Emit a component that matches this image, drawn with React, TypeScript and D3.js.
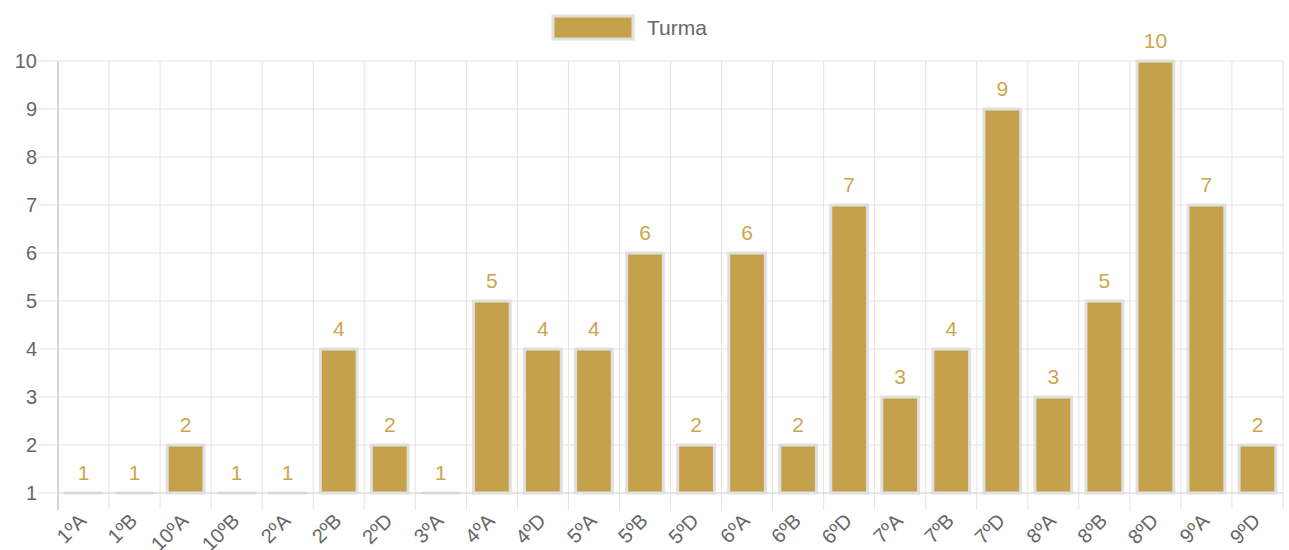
import React from "react";
import * as d3 from "d3";

const categories = ["1ºA","1ºB","10ºA","10ºB","2ºA","2ºB","2ºD","3ºA","4ºA","4ºD","5ºA","5ºB","5ºD","6ºA","6ºB","6ºD","7ºA","7ºB","7ºD","8ºA","8ºB","8ºD","9ºA","9ºD"];
const values = [1,1,2,1,1,4,2,1,5,4,4,6,2,6,2,7,3,4,9,3,5,10,7,2];
const yTicks = [1,2,3,4,5,6,7,8,9,10];
const seriesName = "Turma";

const W = 1289, H = 550;
const left = 58, right = 1283, top = 61, bottom = 493;
const barColor = "#c5a14b";
const font = "Arimo, 'Liberation Sans', Arial, sans-serif";

export default function App() {
  const x = d3.scaleBand<string>().domain(categories).range([left, right]).paddingInner(0).paddingOuter(0);
  const y = d3.scaleLinear().domain([1, 10]).range([bottom, top]);
  const bw = x.bandwidth() * 0.72;
  return (
    <svg width={W} height={H} style={{ position: "absolute", left: 0, top: 0, background: "#fff" }} fontFamily={font}>
      {yTicks.map(t => (
        <g key={"y" + t}>
          <line x1={left - 20} x2={right} y1={y(t)} y2={y(t)} stroke="#e3e3e3" strokeWidth={1} />
          <text x={37} y={y(t)} dy="0.36em" textAnchor="end" fontSize={20} fill="#666">{t}</text>
        </g>
      ))}
      {categories.map(c => (
        <line key={"v" + c} x1={x(c)!} x2={x(c)!} y1={top} y2={bottom + 17} stroke="#e3e3e3" strokeWidth={1} />
      ))}
      <line x1={right} x2={right} y1={top} y2={bottom + 17} stroke="#e3e3e3" strokeWidth={1} />
      <line x1={left} x2={left} y1={top} y2={bottom + 17} stroke="#cccccc" strokeWidth={1.5} />
      <line x1={left} x2={right} y1={bottom} y2={bottom} stroke="#d8d8d8" strokeWidth={1} />
      {categories.map((c, i) => {
        const cx = x(c)! + x.bandwidth() / 2;
        const yt = y(values[i]);
        const h = bottom - yt;
        return (
          <g key={"b" + c}>
            {h > 0 ? (
              <rect x={cx - bw / 2} y={yt} width={bw} height={h} fill={barColor} stroke="#e0e0e0" strokeWidth={3} />
            ) : (
              <line x1={cx - bw / 2 - 1} x2={cx + bw / 2 + 1} y1={bottom} y2={bottom} stroke="#d6d6d6" strokeWidth={2.5} />
            )}
            <text x={cx} y={yt - 13} textAnchor="middle" fontSize={21} fill="#cda54e">{values[i]}</text>
          </g>
        );
      })}
      {categories.map(c => {
        const ax = x(c)! + x.bandwidth() / 2 + 4;
        const ay = bottom + 29;
        return (
          <text key={"x" + c} x={ax} y={ay} textAnchor="end" fontSize={20} fill="#666" transform={`rotate(-45 ${ax} ${ay})`}>{c}</text>
        );
      })}
      <rect x={553} y={16} width={80} height={23} fill={barColor} stroke="#e0e0e0" strokeWidth={3} />
      <text x={647} y={27.5} dy="0.36em" fontSize={21} fill="#666">{seriesName}</text>
    </svg>
  );
}
